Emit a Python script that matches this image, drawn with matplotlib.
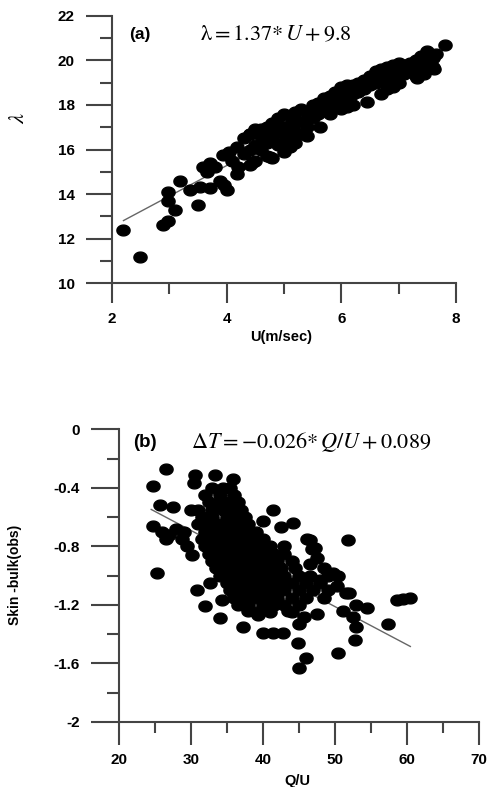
import matplotlib
matplotlib.use("Agg")
import matplotlib.pyplot as plt
import numpy as np
from matplotlib.path import Path
from matplotlib.ticker import MultipleLocator

plt.rcParams['font.family'] = ['Liberation Sans', 'DejaVu Sans']
plt.rcParams['mathtext.fontset'] = 'stix'
plt.rcParams['axes.unicode_minus'] = False

# ---- panel (a): lambda vs U ----
u_a = [2.19, 2.49, 2.89, 2.98, 3.10, 2.98, 2.98, 3.19, 3.50, 3.36, 3.53, 3.71,
       3.59, 3.71, 3.88, 4.00, 3.94, 4.18, 4.18, 4.20, 4.46, 4.40, 4.76, 3.80,
       3.65, 3.95, 4.05, 4.10,
       4.3, 4.3, 4.4, 4.4, 4.4, 4.5, 4.5, 4.5, 4.6, 4.6, 4.6, 4.7, 4.7, 4.7,
       4.8, 4.8, 4.8, 4.9, 4.9, 4.9, 5.0, 5.0, 5.0, 5.0, 5.1, 5.1, 5.1, 5.1,
       5.2, 5.2, 5.2, 5.2, 5.3, 5.3, 5.3, 5.4, 5.4, 5.4, 5.5, 5.5,
       5.6, 5.6, 5.63, 5.7, 5.7, 5.8, 5.8, 5.8, 5.9, 5.9,
       6.0, 6.0, 6.0, 6.1, 6.1, 6.1, 6.2, 6.2, 6.2, 6.3, 6.3,
       6.4, 6.4, 6.45, 6.5, 6.5, 6.6, 6.6, 6.7, 6.7, 6.7,
       6.8, 6.8, 6.8, 6.9, 6.9, 6.9, 7.0, 7.0, 7.0, 7.1, 7.1,
       7.2, 7.2, 7.32, 7.3, 7.3, 7.3, 7.4, 7.4, 7.5, 7.5, 7.62,
       7.6, 7.6, 7.81, 7.65, 7.45]
lam_a = [12.38, 11.20, 12.60, 12.80, 13.30, 13.70, 14.10, 14.60, 13.50, 14.20,
         14.30, 14.27, 15.20, 15.40, 14.60, 14.20, 15.75, 16.10, 14.90, 15.20,
         15.45, 16.70, 15.65, 15.20, 15.00, 14.40, 15.90, 15.50,
         16.5, 15.8, 16.7, 16.0, 15.3, 16.9, 16.2, 15.5, 16.6, 16.0, 16.9,
         17.0, 16.3, 15.7, 17.2, 16.6, 15.6, 17.4, 16.8, 16.2,
         17.6, 17.0, 16.4, 15.9, 17.5, 17.1, 16.6, 16.1,
         17.7, 17.2, 16.8, 16.3, 17.8, 17.3, 16.7, 17.7, 17.0, 16.6, 18.0, 17.4,
         18.1, 17.6, 17.0, 18.3, 17.8, 18.4, 17.9, 17.6, 18.6, 18.1,
         18.8, 18.3, 17.8, 18.9, 18.4, 17.9, 18.9, 18.5, 18.0, 19.0, 18.6,
         19.1, 18.7, 18.15, 19.3, 18.9, 19.5, 19.0, 19.6, 19.1, 18.5,
         19.7, 19.2, 18.7, 19.8, 19.3, 18.8, 19.9, 19.5, 19.0, 19.8, 19.4,
         19.9, 19.6, 19.2, 20.0, 19.7, 19.3, 20.2, 19.8, 20.4, 20.0, 19.6,
         20.1, 19.7, 20.7, 20.3, 19.4]
fit_a = (1.37, 9.8)

# ---- panel (b): skin-bulk vs Q/U ----
qu_b = [26.6, 24.7, 25.7, 27.5, 24.7, 25.3, 26.0, 27.0, 28.0, 28.8, 29.5, 30.2,
        26.5, 29.0, 30.6, 30.5, 33.3, 35.8, 30.0, 30.8, 32.0, 32.6, 34.0, 34.3,
        37.3, 38.0, 39.3, 40.0, 41.4, 42.8, 44.9, 45.1, 46.0, 45.1, 50.4, 52.8,
        53.0, 57.4, 58.6, 59.5, 60.4, 51.8, 49.8, 50.3, 51.6, 51.1, 52.6, 54.5,
        41.4, 40.0, 42.5, 44.2, 42.9, 46.5, 47.3, 47.9, 47.5, 45.7, 43.5,
        33.0, 34.5, 35.5, 32.0, 34.0, 36.0, 32.5, 34.0, 35.5, 36.5,
        31.0, 33.0, 34.5, 36.0, 37.0, 31.5, 33.0, 35.0, 36.5, 37.5,
        31.0, 32.5, 34.0, 35.5, 37.0, 38.0, 32.0, 33.5, 35.0, 36.5, 38.0, 39.0,
        31.5, 33.0, 34.5, 36.0, 37.5, 39.0, 40.0,
        32.0, 33.5, 35.0, 36.5, 38.0, 39.5, 41.0,
        32.5, 34.0, 35.5, 37.0, 38.5, 40.0, 41.5, 43.0,
        33.0, 34.5, 36.0, 37.5, 39.0, 40.5, 42.0, 44.0,
        33.5, 35.0, 36.5, 38.0, 39.5, 41.0, 42.5, 44.5,
        34.0, 35.5, 37.0, 38.5, 40.0, 41.5, 43.0, 45.0, 46.5,
        35.0, 36.5, 38.0, 39.5, 41.0, 42.5, 44.0, 46.0, 48.0,
        35.5, 37.0, 38.5, 40.0, 41.5, 43.0, 45.0, 47.0, 49.0,
        36.0, 37.5, 39.0, 40.5, 42.0, 44.0, 46.0, 48.5,
        36.5, 38.0, 40.0, 41.5, 43.0, 45.0, 39.0, 41.0, 44.0,
        46.2, 46.8, 47.5, 46.5, 48.5, 49.0, 50.5, 52.0, 53.0]
dt_b = [-0.27, -0.39, -0.52, -0.53, -0.66, -0.98, -0.70, -0.72, -0.68, -0.75,
        -0.80, -0.86, -0.75, -0.70, -0.31, -0.37, -0.31, -0.34, -0.55, -1.10,
        -1.21, -1.05, -1.29, -1.17, -1.35, -1.24, -1.27, -1.39, -1.39, -1.39,
        -1.46, -1.63, -1.56, -1.33, -1.53, -1.44, -1.35, -1.33, -1.17, -1.16,
        -1.15, -0.76, -0.98, -1.07, -1.12, -1.24, -1.28, -1.22,
        -0.55, -0.63, -0.67, -0.64, -0.80, -0.76, -0.81, -1.03, -1.26, -1.28,
        -1.24,
        -0.40, -0.40, -0.40, -0.45, -0.45, -0.45, -0.50, -0.50, -0.50, -0.50,
        -0.55, -0.55, -0.55, -0.55, -0.55, -0.60, -0.60, -0.60, -0.60, -0.60,
        -0.65, -0.65, -0.65, -0.65, -0.65, -0.65, -0.70, -0.70, -0.70, -0.70,
        -0.70, -0.70,
        -0.75, -0.75, -0.75, -0.75, -0.75, -0.75, -0.75,
        -0.80, -0.80, -0.80, -0.80, -0.80, -0.80, -0.80,
        -0.85, -0.85, -0.85, -0.85, -0.85, -0.85, -0.85, -0.85,
        -0.90, -0.90, -0.90, -0.90, -0.90, -0.90, -0.90, -0.90,
        -0.95, -0.95, -0.95, -0.95, -0.95, -0.95, -0.95, -0.95,
        -1.00, -1.00, -1.00, -1.00, -1.00, -1.00, -1.00, -1.00, -1.00,
        -1.05, -1.05, -1.05, -1.05, -1.05, -1.05, -1.05, -1.05, -1.05,
        -1.10, -1.10, -1.10, -1.10, -1.10, -1.10, -1.10, -1.10, -1.10,
        -1.15, -1.15, -1.15, -1.15, -1.15, -1.15, -1.15, -1.15,
        -1.20, -1.20, -1.20, -1.20, -1.20, -1.20, -1.25, -1.25, -1.25,
        -0.75, -0.82, -0.88, -0.92, -0.95, -1.00, -1.00, -1.12, -1.20]
fit_b = (-0.026, 0.089)

# slightly wide ellipse marker
t = np.linspace(0, 2 * np.pi, 40)
ell = Path(np.column_stack([np.cos(t), 0.82 * np.sin(t)]), closed=True)


def style_axes(ax, ymaj, xmaj, ypad, xpad):
    for s in ['top', 'right']:
        ax.spines[s].set_visible(False)
    for s in ['left', 'bottom']:
        ax.spines[s].set_color('#444444')
        ax.spines[s].set_linewidth(1.5)
    ax.tick_params(axis='y', which='major', direction='out', length=ymaj,
                   width=1.5, color='#444444', pad=ypad)
    ax.tick_params(axis='y', which='minor', direction='out', length=8.5,
                   width=1.5, color='#444444')
    ax.tick_params(axis='x', which='major', direction='out', length=xmaj,
                   width=1.5, color='#444444', pad=xpad)
    ax.tick_params(axis='x', which='minor', direction='out', length=8,
                   width=1.5, color='#444444')
    for lab in ax.get_xticklabels() + ax.get_yticklabels():
        lab.set_fontweight('bold')
        lab.set_fontsize(11)


fig = plt.figure(figsize=(4.87, 7.87), dpi=100)

ax1 = fig.add_axes([0.230, 0.640, 0.706, 0.340])
xs = np.linspace(2.2, 7.8, 50)
ax1.plot(xs, fit_a[0] * xs + fit_a[1], color='#666666', lw=1, zorder=1)
ax1.plot(u_a, lam_a, linestyle='none', marker=ell, markersize=9.5,
         color='black', zorder=2)
ax1.set_xlim(2, 8)
ax1.set_ylim(10, 22)
ax1.xaxis.set_major_locator(MultipleLocator(2))
ax1.xaxis.set_minor_locator(MultipleLocator(1))
ax1.yaxis.set_major_locator(MultipleLocator(2))
ax1.yaxis.set_minor_locator(MultipleLocator(1))
style_axes(ax1, 18.7, 14.4, 8, 6)
ax1.text(0.05, 0.93, '(a)', transform=ax1.transAxes, fontsize=12.5,
         fontweight='bold', va='center', ha='left')
ax1.text(0.255, 0.93, r'$\mathrm{\lambda} = 1.37{*}\,U + 9.8$',
         transform=ax1.transAxes, fontsize=16, va='center', ha='left')

ax2 = fig.add_axes([0.244, 0.0826, 0.739, 0.372])
xs = np.linspace(24.5, 60.5, 50)
ax2.plot(xs, fit_b[0] * xs + fit_b[1], color='#666666', lw=1, zorder=1)
ax2.plot(qu_b, dt_b, linestyle='none', marker=ell, markersize=9.5,
         color='black', zorder=2)
ax2.set_xlim(20, 70)
ax2.set_ylim(-2, 0)
ax2.xaxis.set_major_locator(MultipleLocator(10))
ax2.xaxis.set_minor_locator(MultipleLocator(5))
ax2.yaxis.set_major_locator(MultipleLocator(0.4))
ax2.yaxis.set_minor_locator(MultipleLocator(0.2))
ax2.set_yticks([0, -0.4, -0.8, -1.2, -1.6, -2])
ax2.set_yticklabels(['0', '-0.4', '-0.8', '-1.2', '-1.6', '-2'])
style_axes(ax2, 20, 16.5, 8, 6)
ax2.text(0.04, 0.955, '(b)', transform=ax2.transAxes, fontsize=13.5,
         fontweight='bold', va='center', ha='left')
ax2.text(0.2, 0.955, r'$\Delta T = {-}0.026{*}\,Q/U + 0.089$',
         transform=ax2.transAxes, fontsize=16, va='center', ha='left')

# axis labels
fig.text(19 / 487, 1 - 118 / 787, r'$\lambda$', rotation=90, fontsize=16,
         ha='center', va='center')
fig.text(281 / 487, 1 - 337 / 787, 'U(m/sec)', fontsize=10.5, fontweight='bold',
         ha='center', va='center')
fig.text(15 / 487, 1 - 575 / 787, 'Skin -bulk(obs)', rotation=90, fontsize=10,
         fontweight='bold', ha='center', va='center')
fig.text(297 / 487, 1 - 781 / 787, 'Q/U', fontsize=10.5, fontweight='bold',
         ha='center', va='center')

fig.savefig('out.png', dpi=100)
